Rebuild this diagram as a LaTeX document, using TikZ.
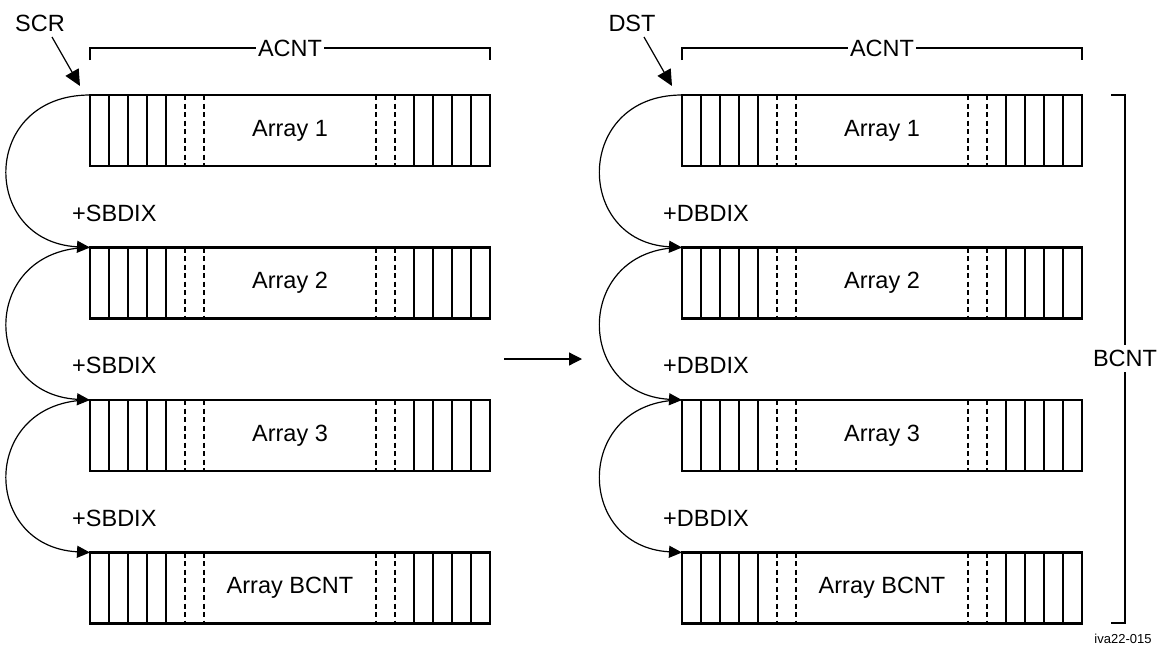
\documentclass[tikz,border=0pt]{standalone}
\usepackage{fontspec}
\setmainfont{Liberation Sans}
\usetikzlibrary{arrows.meta,calc}
\begin{document}
\begin{tikzpicture}[x=1pt,y=-1pt,
  big/.style={font=\fontsize{23.5}{28}\selectfont},
  arr/.style={draw, line width=2.6pt, minimum width=400pt, minimum height=71pt, inner sep=0pt, outer sep=0pt, big},
  cell/.style={line width=1.1pt},
  dcell/.style={line width=1.1pt, dash pattern=on 5pt off 3.5pt},
  link/.style={line width=1.2pt, -{Triangle[length=13pt,width=12pt]}},
  ptr/.style={line width=1.2pt, -{Triangle[length=16pt,width=15pt]}},
  brace/.style={line width=1.2pt},
  lbl/.style={inner sep=0pt, anchor=west, big},
  cnt/.style={fill=white, inner xsep=2pt, inner ysep=5.5pt, big}
]
\useasboundingbox (0,0) rectangle (1159,645);

% arrays
\node[arr] (L1) at (290,130.5) {Array 1};
\node[arr] (L2) at (290,283) {Array 2};
\node[arr] (L3) at (290,435.5) {Array 3};
\node[arr] (L4) at (290,588) {Array BCNT};
\node[arr] (R1) at (882,130.5) {Array 1};
\node[arr] (R2) at (882,283) {Array 2};
\node[arr] (R3) at (882,435.5) {Array 3};
\node[arr] (R4) at (882,588) {Array BCNT};

\foreach \n in {L1,L2,L3,L4,R1,R2,R3,R4}{
  \foreach \k in {19,38,57,76}{
    \draw[cell] ($(\n.north west)+(\k,0)$) -- ($(\n.south west)+(\k,0)$);
    \draw[cell] ($(\n.north east)+(-\k,0)$) -- ($(\n.south east)+(-\k,0)$);
  }
  \foreach \k in {95,114}{
    \draw[dcell] ($(\n.north west)+(\k,0)$) -- ($(\n.south west)+(\k,0)$);
    \draw[dcell] ($(\n.north east)+(-\k,0)$) -- ($(\n.south east)+(-\k,0)$);
  }
}

% linking curves
\draw[link] (L1.north west) .. controls +(-110,0) and +(-110,-6) .. (L2.north west);
\draw[link] (L2.north west) .. controls +(-110,0) and +(-110,-6) .. (L3.north west);
\draw[link] (L3.north west) .. controls +(-110,0) and +(-110,-6) .. (L4.north west);
\draw[link] (R1.north west) .. controls +(-108,0) and +(-108,-6) .. (R2.north west);
\draw[link] (R2.north west) .. controls +(-108,0) and +(-108,-6) .. (R3.north west);
\draw[link] (R3.north west) .. controls +(-108,0) and +(-108,-6) .. (R4.north west);

% index labels
\node[lbl] (s1) at (72,213) {+SBDIX};
\node[lbl] (s2) at (72,365.5) {+SBDIX};
\node[lbl] (s3) at (72,518) {+SBDIX};
\node[lbl] (d1) at (663,213) {+DBDIX};
\node[lbl] (d2) at (663,365.5) {+DBDIX};
\node[lbl] (d3) at (663,518) {+DBDIX};

% ACNT brackets
\draw[brace] ($(L1.north west)+(0,-35)$) -- ($(L1.north west)+(0,-47)$) -- ($(L1.north east)+(0,-47)$) -- ($(L1.north east)+(0,-35)$);
\node[cnt] (aL) at (290,48) {ACNT};
\draw[brace] ($(R1.north west)+(0,-35)$) -- ($(R1.north west)+(0,-47)$) -- ($(R1.north east)+(0,-47)$) -- ($(R1.north east)+(0,-35)$);
\node[cnt] (aR) at (882,48) {ACNT};

% BCNT bracket
\draw[brace] (1111,95) -- (1125,95) -- (1125,623) -- (1111,623);
\node[cnt] (bc) at (1125,358.5) {BCNT};

% SCR / DST pointers
\node[big, inner sep=0pt] (scr) at (40,23) {SCR};
\coordinate (scrt) at (52,37);
\coordinate (scrh) at (80,86);
\draw[ptr] (scrt) -- (scrh);
\node[big, inner sep=0pt] (dst) at (632,23) {DST};
\coordinate (dstt) at (644,37);
\coordinate (dsth) at (672,86);
\draw[ptr] (dstt) -- (dsth);

% middle arrow
\coordinate (ma) at (504,359);
\coordinate (mb) at (582,359);
\draw[line width=1.2pt, -{Triangle[length=13pt,width=13pt]}] (ma) -- (mb);

% figure id
\node[font=\fontsize{13}{15}\selectfont, inner sep=0pt] (fid) at (1123,639) {iva22-015};
\end{tikzpicture}
\end{document}
